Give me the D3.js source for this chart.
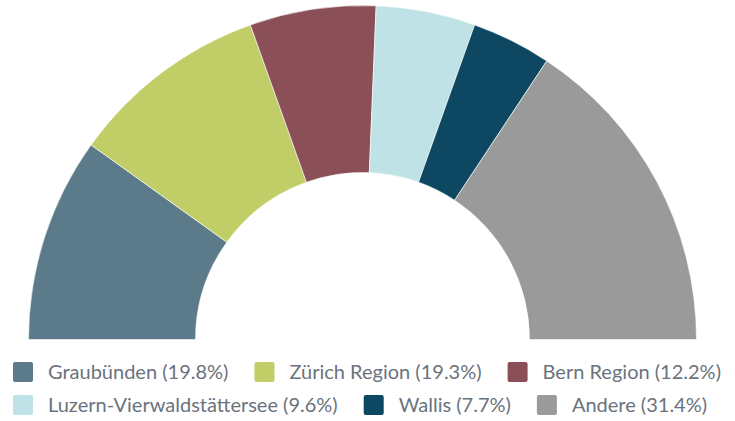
<!DOCTYPE html>
<html>
<head>
<meta charset="utf-8">
<script src="https://cdn.jsdelivr.net/npm/d3@7"></script>
<style>
  body { margin: 0; background: #fff; }
  svg { display: block; }
</style>
</head>
<body>
<div id="chart"></div>
<script>
// Data
const regions = ["Graubünden", "Zürich Region", "Bern Region", "Luzern-Vierwaldstättersee", "Wallis", "Andere"];
const shares = [19.8, 19.3, 12.2, 9.6, 7.7, 31.4];
const colors = ["#5b7a8a", "#c1cd67", "#8b5057", "#bfe2e6", "#0e4761", "#9a9a9a"];
const legendRows = [[0, 1, 2], [3, 4, 5]];

const width = 735, height = 421;
const cx = 362.5, cy = 339.5;
const outerR = 334, innerR = 167;

const svg = d3.select("#chart")
    .append("svg")
    .attr("width", width)
    .attr("height", height);

const data = regions.map((r, i) => ({ region: r, value: shares[i], color: colors[i] }));

// half donut, left to right
const pie = d3.pie()
    .value(d => d.value)
    .sort(null)
    .startAngle(-Math.PI / 2)
    .endAngle(Math.PI / 2);

const arc = d3.arc()
    .innerRadius(innerR)
    .outerRadius(outerR);

svg.append("g")
    .attr("transform", `translate(${cx}, ${cy})`)
    .selectAll("path")
    .data(pie(data))
    .join("path")
    .attr("d", arc)
    .attr("fill", d => d.data.color)
    .attr("stroke", "#fff")
    .attr("stroke-width", 0.6);

// Legend
const legend = svg.append("g")
    .style("font-family", "Lato, sans-serif")
    .style("font-size", "20px")
    .style("fill", "#6a737d");

const rowY = [372, 405];
const sw = 20, textGap = 15, itemGap = 26;

legendRows.forEach((row, ri) => {
    let x = 13;
    row.forEach(i => {
        const g = legend.append("g").attr("transform", `translate(${x}, ${rowY[ri]})`);
        g.append("rect")
            .attr("x", 0)
            .attr("y", -sw / 2)
            .attr("width", sw)
            .attr("height", sw)
            .attr("rx", 2)
            .attr("fill", colors[i]);
        const t = g.append("text")
            .attr("x", sw + textGap)
            .attr("dy", "0.35em")
            .text(`${regions[i]} (${shares[i]}%)`);
        x += sw + textGap + t.node().getComputedTextLength() + itemGap;
    });
});
</script>
</body>
</html>
